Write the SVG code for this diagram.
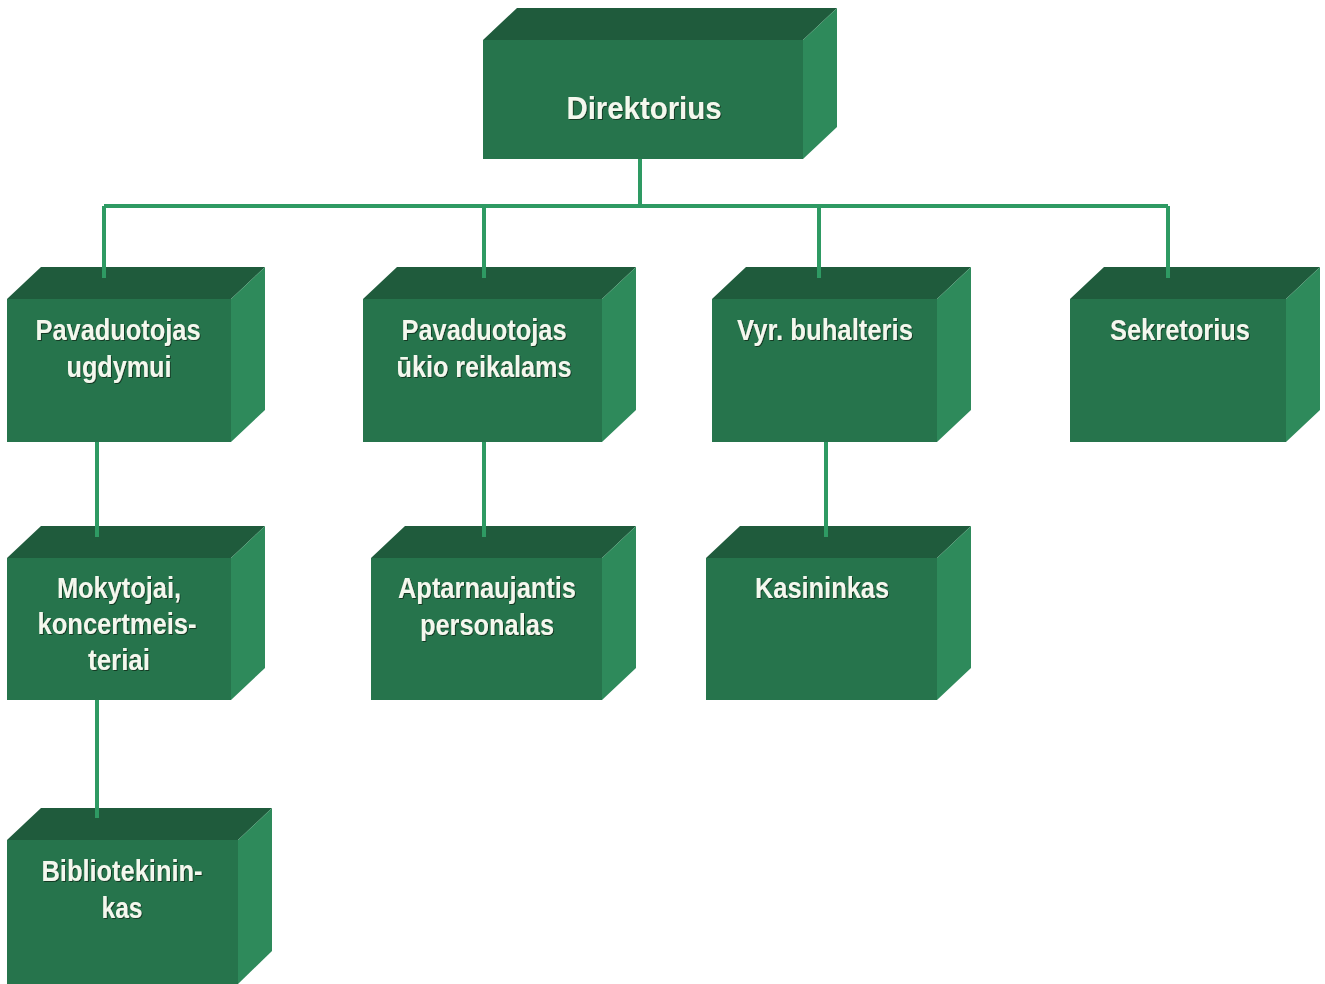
<svg xmlns="http://www.w3.org/2000/svg" width="1325" height="984" viewBox="0 0 1325 984">
<style>
.front{fill:#26744c}
.top{fill:#1f5b3c}
.side{fill:#2e8a5b}
.lbl{font-family:"Liberation Sans",Arial,sans-serif;font-weight:bold;fill:#f4f8ee;text-anchor:middle;font-size:29px}
.big{font-size:32px}
.conn{stroke:#2e9a63;stroke-width:4;fill:none}
</style>
<defs>
<filter id="sh" x="-10%" y="-10%" width="120%" height="130%">
<feDropShadow dx="1" dy="1" stdDeviation="0.6" flood-color="#0b2a1a" flood-opacity="0.8"/>
</filter>
</defs>
<rect width="1325" height="984" fill="#ffffff"/>
<g id="direktorius">
<polygon class="top" points="483,40 517,8 837,8 803,40"/>
<polygon class="side" points="803,40 837,8 837,127 803,159"/>
<rect class="front" x="483" y="40" width="320" height="119"/>
<text class="lbl big" x="644" y="119" textLength="155" lengthAdjust="spacingAndGlyphs" filter="url(#sh)">Direktorius</text>
</g>
<g id="pav-ugdymui">
<polygon class="top" points="7,299 41,267 265,267 231,299"/>
<polygon class="side" points="231,299 265,267 265,410 231,442"/>
<rect class="front" x="7" y="299" width="224" height="143"/>
<text class="lbl" x="118" y="340" textLength="165" lengthAdjust="spacingAndGlyphs" filter="url(#sh)">Pavaduotojas</text>
<text class="lbl" x="119" y="377" textLength="105" lengthAdjust="spacingAndGlyphs" filter="url(#sh)">ugdymui</text>
</g>
<g id="pav-ukio">
<polygon class="top" points="363,299 397,267 636,267 602,299"/>
<polygon class="side" points="602,299 636,267 636,410 602,442"/>
<rect class="front" x="363" y="299" width="239" height="143"/>
<text class="lbl" x="484" y="340" textLength="165" lengthAdjust="spacingAndGlyphs" filter="url(#sh)">Pavaduotojas</text>
<text class="lbl" x="484" y="377" textLength="175" lengthAdjust="spacingAndGlyphs" filter="url(#sh)">ūkio reikalams</text>
</g>
<g id="buhalteris">
<polygon class="top" points="712,299 746,267 971,267 937,299"/>
<polygon class="side" points="937,299 971,267 971,410 937,442"/>
<rect class="front" x="712" y="299" width="225" height="143"/>
<text class="lbl" x="825" y="340" textLength="176" lengthAdjust="spacingAndGlyphs" filter="url(#sh)">Vyr. buhalteris</text>
</g>
<g id="sekretorius">
<polygon class="top" points="1070,299 1104,267 1320,267 1286,299"/>
<polygon class="side" points="1286,299 1320,267 1320,410 1286,442"/>
<rect class="front" x="1070" y="299" width="216" height="143"/>
<text class="lbl" x="1180" y="340" textLength="140" lengthAdjust="spacingAndGlyphs" filter="url(#sh)">Sekretorius</text>
</g>
<g id="mokytojai">
<polygon class="top" points="7,558 41,526 265,526 231,558"/>
<polygon class="side" points="231,558 265,526 265,668 231,700"/>
<rect class="front" x="7" y="558" width="224" height="142"/>
<text class="lbl" x="119" y="598" textLength="124" lengthAdjust="spacingAndGlyphs" filter="url(#sh)">Mokytojai,</text>
<text class="lbl" x="117" y="634" textLength="159" lengthAdjust="spacingAndGlyphs" filter="url(#sh)">koncertmeis-</text>
<text class="lbl" x="119" y="670" textLength="62" lengthAdjust="spacingAndGlyphs" filter="url(#sh)">teriai</text>
</g>
<g id="aptarnaujantis">
<polygon class="top" points="371,558 405,526 636,526 602,558"/>
<polygon class="side" points="602,558 636,526 636,668 602,700"/>
<rect class="front" x="371" y="558" width="231" height="142"/>
<text class="lbl" x="487" y="598" textLength="178" lengthAdjust="spacingAndGlyphs" filter="url(#sh)">Aptarnaujantis</text>
<text class="lbl" x="487" y="635" textLength="134" lengthAdjust="spacingAndGlyphs" filter="url(#sh)">personalas</text>
</g>
<g id="kasininkas">
<polygon class="top" points="706,558 740,526 971,526 937,558"/>
<polygon class="side" points="937,558 971,526 971,668 937,700"/>
<rect class="front" x="706" y="558" width="231" height="142"/>
<text class="lbl" x="822" y="598" textLength="134" lengthAdjust="spacingAndGlyphs" filter="url(#sh)">Kasininkas</text>
</g>
<g id="bibliotekininkas">
<polygon class="top" points="7,840 41,808 272,808 238,840"/>
<polygon class="side" points="238,840 272,808 272,951 238,984"/>
<rect class="front" x="7" y="840" width="231" height="144"/>
<text class="lbl" x="122" y="881" textLength="161" lengthAdjust="spacingAndGlyphs" filter="url(#sh)">Bibliotekinin-</text>
<text class="lbl" x="122" y="918" textLength="41" lengthAdjust="spacingAndGlyphs" filter="url(#sh)">kas</text>
</g>
<g id="connectors">
<path class="conn" d="M640 159V206M104 206H1168M104 206V278M484 206V278M819 206V278M1168 206V278"/>
<path class="conn" d="M97 442V537M484 442V537M826 442V537M97 700V818"/>
</g>
</svg>
